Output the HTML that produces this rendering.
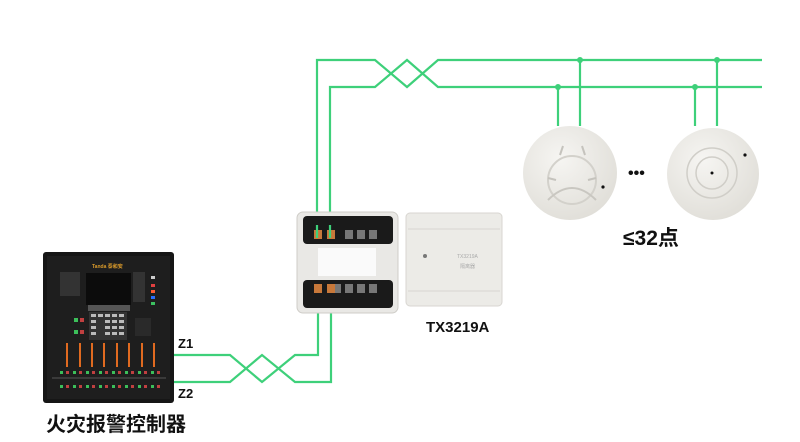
<!DOCTYPE html>
<html><head><meta charset="utf-8"><style>
html,body{margin:0;padding:0;background:#fff;}
svg{display:block;}
text{font-family:"Liberation Sans","Noto Sans CJK SC",sans-serif;font-weight:bold;fill:#111;}
</style></head><body>
<svg width="800" height="442" viewBox="0 0 800 442" xmlns="http://www.w3.org/2000/svg">
<defs>
<radialGradient id="dg" cx="0.4" cy="0.35" r="0.7"><stop offset="0" stop-color="#f6f5f2"/><stop offset="1" stop-color="#e0ded8"/></radialGradient>
</defs>
<!-- controller -->
<rect x="43" y="252" width="131" height="151" rx="3" fill="#161616"/>
<rect x="47" y="256" width="123" height="143" fill="#1e1e1e"/>
<text x="92" y="268" font-size="5" style="fill:#d99a2b">Tanda 泰和安</text>
<rect x="86" y="273" width="45" height="32" fill="#0c0c0c"/>
<rect x="88" y="305" width="42" height="6" fill="#555"/>
<rect x="89" y="312" width="38" height="28" fill="#333"/>
<g fill="#bbb">
<rect x="91" y="314" width="5" height="3"/><rect x="98" y="314" width="5" height="3"/><rect x="105" y="314" width="5" height="3"/><rect x="112" y="314" width="5" height="3"/><rect x="119" y="314" width="5" height="3"/>
<rect x="91" y="320" width="5" height="3"/><rect x="105" y="320" width="5" height="3"/><rect x="112" y="320" width="5" height="3"/><rect x="119" y="320" width="5" height="3"/>
<rect x="91" y="326" width="5" height="3"/><rect x="105" y="326" width="5" height="3"/><rect x="112" y="326" width="5" height="3"/><rect x="119" y="326" width="5" height="3"/>
<rect x="91" y="332" width="5" height="3"/><rect x="105" y="332" width="5" height="3"/><rect x="112" y="332" width="5" height="3"/><rect x="119" y="332" width="5" height="3"/>
</g>
<rect x="60" y="272" width="20" height="24" fill="#333"/>
<rect x="133" y="272" width="12" height="30" fill="#333"/>
<rect x="151" y="276" width="4" height="3" fill="#ccc"/><rect x="151" y="284" width="4" height="3" fill="#e04040"/><rect x="151" y="290" width="4" height="3" fill="#ff5a30"/><rect x="151" y="296" width="4" height="3" fill="#2a6fff"/><rect x="151" y="302" width="4" height="3" fill="#3cc060"/>
<rect x="74" y="318" width="4" height="4" fill="#3cbf5a"/><rect x="80" y="318" width="4" height="4" fill="#c04040"/><rect x="74" y="330" width="4" height="4" fill="#3cbf5a"/><rect x="80" y="330" width="4" height="4" fill="#c04040"/>
<rect x="135" y="318" width="16" height="18" fill="#2a2a2a"/>
<g fill="#e06a20">
<rect x="66" y="343" width="2" height="24"/><rect x="79" y="343" width="2" height="24"/><rect x="91" y="343" width="2" height="24"/><rect x="103" y="343" width="2" height="24"/><rect x="116" y="343" width="2" height="24"/><rect x="128" y="343" width="2" height="24"/><rect x="141" y="343" width="2" height="24"/><rect x="153" y="343" width="2" height="24"/>
</g>
<line x1="52" y1="378" x2="166" y2="378" stroke="#555"/>
<g id="btns">
<rect x="60" y="371" width="3" height="3" fill="#3cbf5a"/><rect x="66" y="371" width="3" height="3" fill="#c04040"/><rect x="73" y="371" width="3" height="3" fill="#3cbf5a"/><rect x="79" y="371" width="3" height="3" fill="#c04040"/><rect x="86" y="371" width="3" height="3" fill="#3cbf5a"/><rect x="92" y="371" width="3" height="3" fill="#c04040"/><rect x="99" y="371" width="3" height="3" fill="#3cbf5a"/><rect x="105" y="371" width="3" height="3" fill="#c04040"/><rect x="112" y="371" width="3" height="3" fill="#3cbf5a"/><rect x="118" y="371" width="3" height="3" fill="#c04040"/><rect x="125" y="371" width="3" height="3" fill="#3cbf5a"/><rect x="131" y="371" width="3" height="3" fill="#c04040"/><rect x="138" y="371" width="3" height="3" fill="#3cbf5a"/><rect x="144" y="371" width="3" height="3" fill="#c04040"/><rect x="151" y="371" width="3" height="3" fill="#3cbf5a"/><rect x="157" y="371" width="3" height="3" fill="#c04040"/>
</g>
<use href="#btns" y="14"/>
<text x="178" y="348" font-size="13">Z1</text>
<text x="178" y="398" font-size="13">Z2</text>
<text x="46" y="431" font-size="20">火灾报警控制器</text>
<g fill="none" stroke="#3ed07a" stroke-width="2.2">
<polyline points="174,355 230,355 262,382 295,355 318,355 318,284"/>
<polyline points="174,382 230,382 262,355 295,382 331,382 331,284"/>
<polyline points="317,238 317,60 375,60 407,87 438,60 762,60"/>
<polyline points="330,238 330,87 375,87 407,60 438,87 762,87"/>
<line x1="580" y1="60" x2="580" y2="126"/><line x1="717" y1="60" x2="717" y2="126"/>
<line x1="558" y1="87" x2="558" y2="126"/><line x1="695" y1="87" x2="695" y2="126"/>
</g>
<g fill="#3ed07a"><circle cx="580" cy="60" r="3"/><circle cx="717" cy="60" r="3"/><circle cx="558" cy="87" r="3"/><circle cx="695" cy="87" r="3"/></g>
<rect x="297" y="212" width="101" height="101" rx="6" fill="#e9e8e5" stroke="#cfcdc8"/>
<rect x="303" y="216" width="90" height="28" rx="4" fill="#1a1a1a"/>
<rect x="303" y="280" width="90" height="28" rx="4" fill="#1a1a1a"/>
<rect x="318" y="248" width="58" height="28" fill="#fafafa"/>
<g fill="#777"><rect x="345" y="230" width="8" height="9"/><rect x="357" y="230" width="8" height="9"/><rect x="369" y="230" width="8" height="9"/><rect x="345" y="284" width="8" height="9"/><rect x="357" y="284" width="8" height="9"/><rect x="369" y="284" width="8" height="9"/><rect x="333" y="284" width="8" height="9"/></g>
<g fill="#c8783a"><rect x="314" y="230" width="8" height="9"/><rect x="327" y="230" width="8" height="9"/><rect x="314" y="284" width="8" height="9"/><rect x="327" y="284" width="8" height="9"/></g>
<g stroke="#3ed07a" stroke-width="2.2"><line x1="317" y1="225" x2="317" y2="238"/><line x1="330" y1="225" x2="330" y2="238"/></g>
<rect x="406" y="213" width="96" height="93" rx="4" fill="#ecebe7" stroke="#d8d6d1"/>
<line x1="408" y1="229" x2="500" y2="229" stroke="#d8d6d0"/>
<line x1="408" y1="291" x2="500" y2="291" stroke="#d8d6d0"/>
<circle cx="425" cy="256" r="2" fill="#777"/>
<text x="457" y="258" font-size="5" style="fill:#aaa;font-weight:normal">TX3219A</text>
<text x="460" y="268" font-size="5" style="fill:#aaa;font-weight:normal">隔离器</text>
<text x="426" y="332" font-size="15">TX3219A</text>
<circle cx="570" cy="173" r="47" fill="url(#dg)"/>
<circle cx="572" cy="180" r="24" fill="none" stroke="#d3d1cb" stroke-width="2"/>
<path d="M548 200 Q572 176 596 200" fill="none" stroke="#c9c7c1" stroke-width="2"/>
<g stroke="#c5c3bd" stroke-width="2"><line x1="563" y1="146" x2="560" y2="155"/><line x1="582" y1="146" x2="585" y2="155"/><line x1="548" y1="178" x2="556" y2="180"/><line x1="596" y1="178" x2="588" y2="180"/></g>
<circle cx="603" cy="187" r="1.6" fill="#111"/>
<circle cx="713" cy="174" r="46" fill="url(#dg)"/>
<circle cx="712" cy="173" r="25" fill="none" stroke="#d0cec8" stroke-width="1.5"/>
<circle cx="712" cy="173" r="16" fill="none" stroke="#d0cec8" stroke-width="1.5"/>
<circle cx="712" cy="173" r="1.5" fill="#111"/>
<circle cx="745" cy="155" r="1.6" fill="#111"/>
<text x="628" y="178" font-size="16">•••</text>
<text x="623" y="245" font-size="21">≤32点</text>
</svg>
</body></html>
